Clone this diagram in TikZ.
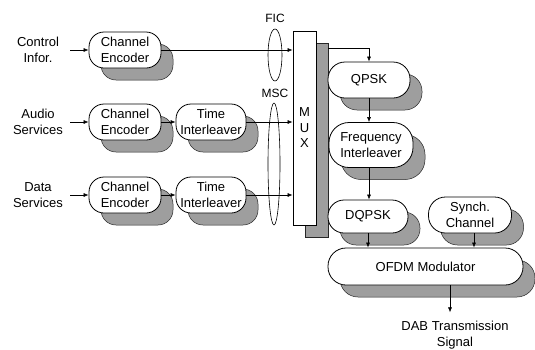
\documentclass[tikz,border=0pt]{standalone}
\usepackage{fontspec}
\setmainfont{Liberation Sans}
\usetikzlibrary{shadows,shapes.geometric,arrows.meta}
\begin{document}
\begin{tikzpicture}[x=1pt,y=-1pt,
  font=\fontsize{13}{15.5}\selectfont,
  shade/.style={general shadow={shadow xshift=12pt, shadow yshift=-12pt, fill=black!38, draw=black!85, line width=0.5pt}},
  rbox/.style={draw, line width=0.8pt, fill=white, rounded corners=#1, align=center, inner sep=0pt, shade},
  rbox/.default=15pt,
  arr/.style={-{Latex[length=5pt,width=4pt]}, line width=0.6pt},
  lbl/.style={align=center, inner sep=0pt},
  oval/.style={ellipse, draw, line width=0.6pt, inner sep=0pt}]
\useasboundingbox (0,0) rectangle (535,349);

% inputs
\node[lbl, minimum width=64pt] (ctl) at (38,50) {Control\\Infor.};
\node[lbl, minimum width=64pt] (aud) at (38,122) {Audio\\Services};
\node[lbl, minimum width=64pt] (dat) at (38,195) {Data\\Services};

% encoders and interleavers
\node[rbox, minimum width=72pt, minimum height=36pt] (ce1) at (125,50) {Channel\\Encoder};
\node[rbox, minimum width=72pt, minimum height=36pt] (ce2) at (125,122) {Channel\\Encoder};
\node[rbox, minimum width=70pt, minimum height=36pt] (ti2) at (211,122) {Time\\Interleaver};
\node[rbox, minimum width=72pt, minimum height=36pt] (ce3) at (125,195) {Channel\\Encoder};
\node[rbox, minimum width=70pt, minimum height=36pt] (ti3) at (211,195) {Time\\Interleaver};

% MUX
\node[draw, line width=0.8pt, fill=white, minimum width=23pt, minimum height=194pt, inner sep=0pt, align=center, shade] (mux) at (304.5,128) {M\\U\\X};

% ellipses and labels
\node[oval, minimum width=14pt, minimum height=52pt] (fic) at (275,55) {};
\node[lbl, font=\fontsize{12}{14}\selectfont] (ficl) at (275,18) {FIC};
\node[oval, minimum width=12pt, minimum height=122pt] (msc) at (274,164) {};
\node[lbl, font=\fontsize{12}{14}\selectfont] (mscl) at (275,93) {MSC};

% right column
\node[rbox=17pt, minimum width=82pt, minimum height=36pt] (qpsk) at (369,80) {QPSK};
\node[rbox=20pt, minimum width=84pt, minimum height=45pt] (fi) at (371,145) {Frequency\\Interleaver};
\node[rbox=16pt, minimum width=80pt, minimum height=33pt] (dqpsk) at (368,216.5) {DQPSK};
\node[rbox=17pt, minimum width=83pt, minimum height=36pt] (sync) at (470,215) {Synch.\\Channel};
\node[rbox=18pt, minimum width=195pt, minimum height=37pt] (ofdm) at (425.5,266.5) {OFDM Modulator};
\node[lbl] (dab) at (455,335) {DAB Transmission\\Signal};

\coordinate (muxout) at (328,48);

% connectors
\draw[arr] (ctl.east) -- (ce1.west);
\draw[arr] (aud.east) -- (ce2.west);
\draw[arr] (dat.east) -- (ce3.west);
\draw[arr] (ce2.east) -- (ti2.west);
\draw[arr] (ce3.east) -- (ti3.west);
\draw[arr] (ce1.east) -- (ce1.east -| mux.west);
\draw[arr] (ti2.east) -- (ti2.east -| mux.west);
\draw[arr] (ti3.east) -- (ti3.east -| mux.west);
\draw[arr] (muxout) -| (qpsk.north);
\draw[arr] (qpsk.south) -- (qpsk.south |- fi.north);
\draw[arr] (fi.south -| qpsk.south) -- (qpsk.south |- dqpsk.north);
\draw[arr] (dqpsk.south) -- (dqpsk.south |- ofdm.north);
\draw[arr] ([xshift=4pt]sync.south) -- ([xshift=4pt]sync.south |- ofdm.north);
\draw[arr] ([xshift=24.5pt]ofdm.south) -- ([xshift=24.5pt,yshift=-27pt]ofdm.south);
\end{tikzpicture}
\end{document}
